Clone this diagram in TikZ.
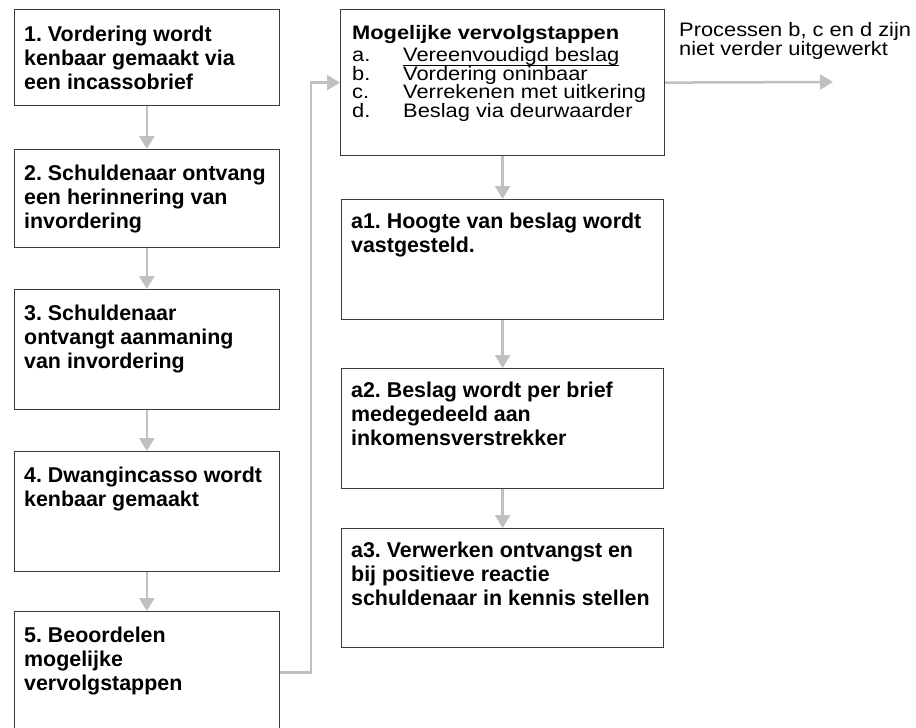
\documentclass[tikz,border=0pt]{standalone}
\usepackage{fontspec}
\setmainfont{Liberation Sans}
\newfontfamily\widefam[FakeStretch=1.12]{Liberation Sans}
\usetikzlibrary{arrows.meta}
\definecolor{boxline}{HTML}{3A3A3A}
\definecolor{connline}{HTML}{C0C0C0}
\newcommand\myul[1]{\setbox0\hbox{#1}\rlap{\rule[-4pt]{\wd0}{1pt}}\box0}
\newcommand\tightlines{\lineskiplimit=-100pt\relax\lineskip=0pt\relax}
\newcommand\boldfont{\fontsize{21.4}{24}\selectfont\bfseries\frenchspacing\tightlines}
\newcommand\listfont{\widefam\fontsize{19.5}{18.6}\selectfont\frenchspacing\tightlines}
\newcommand\notefont{\widefam\fontsize{19.5}{18.2}\selectfont\frenchspacing\tightlines}
\tikzset{
  stepbox/.style={draw=boxline, line width=1.2pt, inner sep=0pt, anchor=north west},
  boldtxt/.style={inner sep=0pt, anchor=base west, align=left, font=\boldfont},
  plaintxt/.style={inner sep=0pt, anchor=base west, align=left, font=\listfont},
  conn/.style={draw=connline, line width=2.5pt, -{Triangle[width=15pt,length=13pt]}}
}
\begin{document}
\begin{tikzpicture}[x=1pt,y=-1pt]
\useasboundingbox (0,0) rectangle (916,728);
% left column boxes
\node[stepbox, minimum width=265.5pt, minimum height=96pt]  (b1) at (13.5,9) {};
\node[stepbox, minimum width=265.5pt, minimum height=98pt]  (b2) at (13.5,149) {};
\node[stepbox, minimum width=265.5pt, minimum height=120pt] (b3) at (13.5,289) {};
\node[stepbox, minimum width=265.5pt, minimum height=120pt] (b4) at (13.5,451) {};
\node[stepbox, minimum width=265.5pt, minimum height=122pt] (b5) at (13.5,611) {};
% right column boxes
\node[stepbox, minimum width=324pt, minimum height=146pt] (r0) at (340,9) {};
\node[stepbox, minimum width=322pt, minimum height=120pt] (a1) at (341,199) {};
\node[stepbox, minimum width=322pt, minimum height=120pt] (a2) at (341,368) {};
\node[stepbox, minimum width=322pt, minimum height=119pt] (a3) at (341,528) {};
% texts (anchored at the baseline of their last line)
\node[boldtxt] (t1) at (24,89)  {1. Vordering wordt\\kenbaar gemaakt via\\een incassobrief};
\node[boldtxt] (t2) at (24,228) {2. Schuldenaar ontvang\\een herinnering van\\invordering};
\node[boldtxt] (t3) at (24,368) {3. Schuldenaar\\ontvangt aanmaning\\van invordering};
\node[boldtxt] (t4) at (24,506) {4. Dwangincasso wordt\\kenbaar gemaakt};
\node[boldtxt] (t5) at (24,690) {5. Beoordelen\\mogelijke\\vervolgstappen};
\node[plaintxt] (list) at (352,117.5) {\textbf{Mogelijke vervolgstappen}\\[3.8pt]
  \makebox[51pt][l]{a.}\myul{Vereenvoudigd beslag}\\
  \makebox[51pt][l]{b.}Vordering oninbaar\\
  \makebox[51pt][l]{c.}Verrekenen met uitkering\\
  \makebox[51pt][l]{d.}Beslag via deurwaarder};
\node[boldtxt] (ta1) at (351,252) {a1. Hoogte van beslag wordt\\vastgesteld.};
\node[boldtxt] (ta2) at (351,445) {a2. Beslag wordt per brief\\medegedeeld aan\\inkomensverstrekker};
\node[boldtxt] (ta3) at (351,605) {a3. Verwerken ontvangst en\\bij positieve reactie\\schuldenaar in kennis stellen};
\node[plaintxt, font=\notefont] (note) at (679,55) {Processen b, c en d zijn\\niet verder uitgewerkt};
% connectors
\draw[conn] (b1.south) -- (b2.north);
\draw[conn] (b2.south) -- (b3.north);
\draw[conn] (b3.south) -- (b4.north);
\draw[conn] (b4.south) -- (b5.north);
\coordinate (bend) at (311,0);
\draw[conn] (b5.east) -- (b5.east -| bend) |- (r0.west);
\draw[conn] (r0.south) -- (a1.north);
\draw[conn] (a1.south) -- (a2.north);
\draw[conn] (a2.south) -- (a3.north);
\coordinate (out) at (833,82);
\draw[conn] (r0.east) -- (out);
\end{tikzpicture}
\end{document}
